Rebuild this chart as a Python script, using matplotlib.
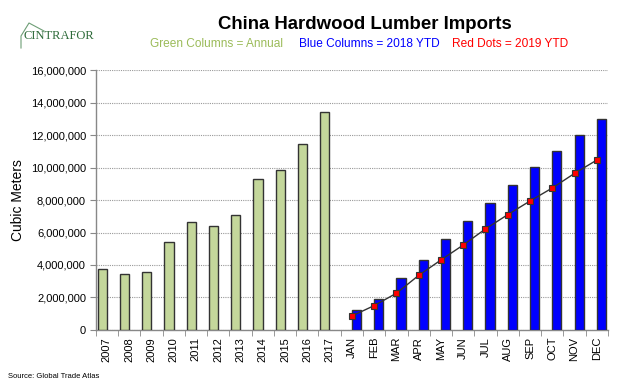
import matplotlib
matplotlib.use("Agg")
import matplotlib.pyplot as plt
from matplotlib.ticker import FuncFormatter, MultipleLocator
from matplotlib.lines import Line2D
import numpy as np

years = ["2007", "2008", "2009", "2010", "2011", "2012", "2013", "2014", "2015", "2016", "2017"]
annual = [3.75e6, 3.45e6, 3.55e6, 5.43e6, 6.67e6, 6.42e6, 7.10e6, 9.29e6, 9.85e6, 11.45e6, 13.40e6]
months = ["JAN", "FEB", "MAR", "APR", "MAY", "JUN", "JUL", "AUG", "SEP", "OCT", "NOV", "DEC"]
ytd2018 = [1.23e6, 1.89e6, 3.18e6, 4.33e6, 5.58e6, 6.69e6, 7.82e6, 8.94e6, 10.05e6, 11.03e6, 12.00e6, 12.96e6]
ytd2019 = [0.86e6, 1.50e6, 2.26e6, 3.36e6, 4.31e6, 5.23e6, 6.22e6, 7.10e6, 7.94e6, 8.74e6, 9.64e6, 10.46e6]

labels = years + months
FONT = "Liberation Sans"
W, H = 640, 383

fig = plt.figure(figsize=(6.4, 3.83), dpi=100)
ax = fig.add_axes([0.1495, 0.1384, 0.8005, 0.6788])

xg = np.arange(len(years))
xm = np.arange(len(years), len(labels))
w = 0.41
ax.bar(xg - 0.21, annual, width=w, color="#C4D79B", edgecolor="#333333", linewidth=1.0, zorder=3)
ax.bar(xm + 0.205, ytd2018, width=w, color="#0000FF", edgecolor="#333333", linewidth=1.0, zorder=3)
ax.plot(xm, ytd2019, color="#333333", linewidth=1.0, marker="s", markersize=5,
        markerfacecolor="#FF0000", markeredgecolor="#333333", markeredgewidth=0.8, zorder=4)

ax.set_xlim(-0.5, len(labels) - 0.5)
ax.set_ylim(0, 16e6)
ax.yaxis.set_major_locator(MultipleLocator(2e6))
ax.yaxis.set_major_formatter(FuncFormatter(lambda v, p: f"{int(v):,}"))
ax.grid(axis="y", color="#999999", linestyle=(0, (1, 1)), linewidth=0.8, zorder=0)

ax.set_xticks(np.arange(len(labels)))
ax.set_xticklabels(labels, rotation=90, fontsize=8, family=FONT)
ax.tick_params(axis="x", length=0, pad=5)
ax.set_xticks(np.arange(-0.5, len(labels) + 0.5, 1), minor=True)
ax.tick_params(axis="x", which="minor", length=4, color="#888888")
ax.tick_params(axis="y", length=4, color="#888888", labelsize=8, pad=3)
for t in ax.get_yticklabels():
    t.set_family(FONT)

for s in ["top", "right"]:
    ax.spines[s].set_visible(False)
for s in ["left", "bottom"]:
    ax.spines[s].set_color("#888888")
    ax.spines[s].set_linewidth(1.0)

ax.set_ylabel("Cubic Meters", fontsize=10, family=FONT)
ax.yaxis.set_label_coords(-0.138, 0.5)

fig.text(0.5696, 0.937, "China Hardwood Lumber Imports", ha="center", va="center",
         fontsize=13.4, fontweight="bold", family=FONT)
sub_y = 0.884
fig.text(216 / W, sub_y, "Green Columns = Annual", ha="center", va="center", fontsize=8.6, color="#9BBB59", family=FONT)
fig.text(369 / W, sub_y, "Blue Columns = 2018 YTD", ha="center", va="center", fontsize=8.6, color="#0000FF", family=FONT)
fig.text(510 / W, sub_y, "Red Dots = 2019 YTD", ha="center", va="center", fontsize=8.6, color="#FF0000", family=FONT)

# logo
fig.text(23 / W, 1 - 36 / H, "CINTRAFOR", ha="left", va="center", fontsize=9, color="#2E6B3A", family="Liberation Serif")
px = [21, 21, 29, 44]
py = [48, 36, 23, 31]
fig.add_artist(Line2D([x / W for x in px], [1 - y / H for y in py], transform=fig.transFigure,
                      color="#6E9E76", linewidth=0.8))

fig.text(0.012, 0.016, "Source: Global Trade Atlas", ha="left", va="center", fontsize=5.5, family=FONT)

fig.savefig("out.png", dpi=100)
